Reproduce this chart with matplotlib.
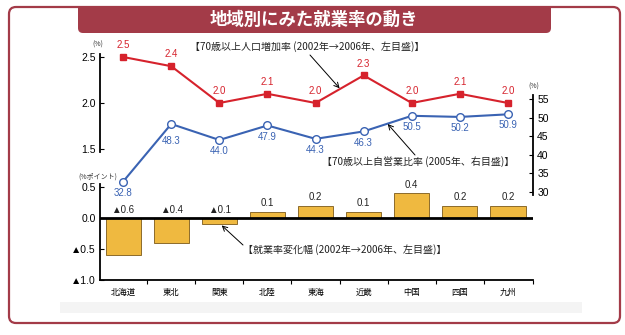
import numpy as np
import matplotlib.pyplot as plt
from matplotlib.patches import FancyBboxPatch, Rectangle

plt.rcParams['font.family'] = ['Noto Sans CJK JP', 'DejaVu Sans']
NUM_FONT = ['Liberation Sans', 'DejaVu Sans']

# 地域別データ
regions = ['北海道', '東北', '関東', '北陸', '東海', '近畿', '中国', '四国', '九州']
pop_growth = [2.5, 2.4, 2.0, 2.1, 2.0, 2.3, 2.0, 2.1, 2.0]          # 70歳以上人口増加率 (%)
self_emp = [32.8, 48.3, 44.0, 47.9, 44.3, 46.3, 50.5, 50.2, 50.9]   # 70歳以上自営業比率 (%)
emp_change = [-0.6, -0.4, -0.1, 0.1, 0.2, 0.1, 0.4, 0.2, 0.2]       # 就業率変化幅 (%ポイント)

left_ticks = [1.5, 2.0, 2.5]
right_ticks = [30, 35, 40, 45, 50, 55]
bar_ticks = [-1.0, -0.5, 0.0, 0.5]
bar_ticklabels = ['▲1.0', '▲0.5', '0.0', '0.5']

RED = '#D6222C'
BLUE = '#3A63B3'
BAR = '#EFB940'
BAR_EDGE = '#8C6B2B'
FRAME = '#A33B48'

W, H = 625, 335

def fig_box(x0, y0, x1, y1):
    # pixel box (top-left origin) -> figure fraction rect
    return [x0 / W, 1 - y1 / H, (x1 - x0) / W, (y1 - y0) / H]

fig = plt.figure(figsize=(6.25, 3.35), dpi=100)

# background layer in pixel units for frame, banner and loose text
bg = fig.add_axes([0, 0, 1, 1])
bg.set_xlim(0, W)
bg.set_ylim(H, 0)
bg.axis('off')

bg.add_patch(FancyBboxPatch((9, 7), 611, 316, boxstyle='round,pad=0,rounding_size=7',
                            fill=False, ec=FRAME, lw=1.6))
bg.add_patch(FancyBboxPatch((78, 7), 473, 26, boxstyle='round,pad=0,rounding_size=5',
                            fc=FRAME, ec='none'))
bg.add_patch(Rectangle((78, 7), 473, 10, fc=FRAME, ec='none'))
bg.add_patch(Rectangle((60, 302), 522, 11, fc='#F4F4F4', ec='none'))
bg.text(314, 20, '地域別にみた就業率の動き', color='white', fontsize=12.5,
        fontweight='bold', ha='center', va='center')

bg.text(98, 45, '(%)', fontsize=5, ha='center', va='center', color='#333333')
bg.text(534, 87, '(%)', fontsize=5, ha='center', va='center', color='#333333')
bg.text(98, 177, '(%ポイント)', fontsize=5, ha='center', va='center', color='#333333')

x = np.arange(len(regions))
xlim = (-0.48, 8.52)

# --- upper panel: two line series on twin y axes
ax1 = fig.add_axes(fig_box(100, 50, 533, 195))
ax1.patch.set_visible(False)
ax1.set_xlim(*xlim)
ax1.set_ylim(1.0, 2.576)
ax2 = ax1.twinx()
ax2.set_ylim(29.2, 68.2)

for a in (ax1, ax2):
    a.spines['top'].set_visible(False)
    a.spines['bottom'].set_visible(False)
    a.set_xticks([])
ax1.spines['right'].set_visible(False)
ax2.spines['left'].set_visible(False)
ax1.spines['left'].set_bounds(1.47, 2.53)
ax1.spines['left'].set_linewidth(1.3)
ax2.spines['right'].set_bounds(29.3, 56)
ax2.spines['right'].set_linewidth(1.3)

ax1.set_yticks(left_ticks)
ax1.set_yticklabels([f'{t:.1f}' for t in left_ticks])
ax2.set_yticks(right_ticks)
for a in (ax1, ax2):
    a.tick_params(axis='y', direction='in', length=3, width=0.8, pad=3, labelsize=7.5,
                  labelfontfamily=NUM_FONT)

ax1.plot(x, pop_growth, '-s', color=RED, lw=1.5, ms=5, zorder=3)
ax2.plot(x, self_emp, '-o', color=BLUE, lw=1.5, ms=5.5, mfc='white', mew=1, zorder=3)

for i, v in enumerate(pop_growth):
    ax1.annotate(f'{v:.1f}', (i, v), xytext=(0, 8.5), textcoords='offset points',
                 ha='center', va='center', color=RED, fontsize=7, family=NUM_FONT)
for i, v in enumerate(self_emp):
    dy = -12 if i == 1 else -8
    ax2.annotate(f'{v:.1f}', (i, v), xytext=(0, dy), textcoords='offset points',
                 ha='center', va='center', color=BLUE, fontsize=7, family=NUM_FONT)

arrow = dict(arrowstyle='->,head_length=0.35,head_width=0.18', color='black', lw=0.7,
             shrinkA=0, shrinkB=0)
bg.text(190, 47, '【70歳以上人口増加率 (2002年→2006年、左目盛)】', fontsize=7.2,
        ha='left', va='center', color='#222222')
ax1.annotate('', xy=(4.5, 2.16), xytext=(310, 55), textcoords=bg.transData,
             arrowprops=arrow)
bg.text(322, 162, '【70歳以上自営業比率 (2005年、右目盛)】', fontsize=7.2,
        ha='left', va='center', color='#222222')
ax2.annotate('', xy=(5.5, 48.3), xytext=(415, 155), textcoords=bg.transData,
             arrowprops=arrow)

# --- lower panel: change in employment rate
ax3 = fig.add_axes(fig_box(100, 180, 533, 280))
ax3.patch.set_visible(False)
ax3.set_xlim(*xlim)
ax3.set_ylim(-1.0, 0.613)
ax3.bar(x, emp_change, width=0.73, color=BAR, edgecolor=BAR_EDGE, lw=0.7, zorder=2)
ax3.axhline(0, color='black', lw=2, zorder=3)

ax3.spines['top'].set_visible(False)
ax3.spines['right'].set_visible(False)
ax3.spines['left'].set_bounds(-1.0, 0.55)
ax3.spines['left'].set_linewidth(1.3)
ax3.spines['bottom'].set_linewidth(1.3)
ax3.set_yticks(bar_ticks)
ax3.set_yticklabels(bar_ticklabels)
ax3.tick_params(axis='y', direction='in', length=3, width=0.8, pad=3, labelsize=7.5,
                labelfontfamily=NUM_FONT)
ax3.set_xticks(x)
ax3.set_xticklabels(regions)
ax3.tick_params(axis='x', length=0, pad=6, labelsize=6)
ax3.set_xticks(np.append(x[:-1] + 0.5, xlim[1]), minor=True)
ax3.tick_params(axis='x', which='minor', direction='out', length=3, width=0.8)

for i, v in enumerate(emp_change):
    if v < 0:
        ax3.annotate(f'▲{abs(v):.1f}', (i, 0), xytext=(0, 6), textcoords='offset points',
                     ha='center', va='center', fontsize=7, color='#222222', family=NUM_FONT)
    else:
        ax3.annotate(f'{v:.1f}', (i, v), xytext=(0, 6), textcoords='offset points',
                     ha='center', va='center', fontsize=7, color='#222222', family=NUM_FONT)

bg.text(243, 250, '【就業率変化幅 (2002年→2006年、左目盛)】', fontsize=7.2,
        ha='left', va='center', color='#222222')
ax3.annotate('', xy=(2.05, -0.12), xytext=(243, 245), textcoords=bg.transData,
             arrowprops=arrow)

fig.savefig('out.png', dpi=100)
